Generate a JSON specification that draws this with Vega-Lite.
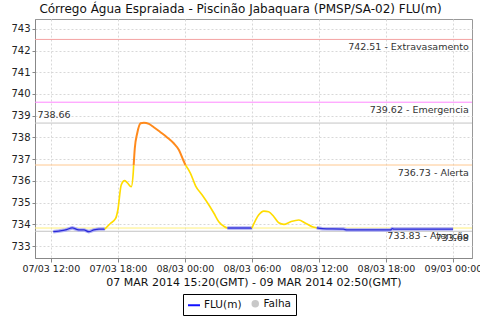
{
  "$schema": "https://vega.github.io/schema/vega-lite/v6.json",
  "autosize": "none",
  "width": 437,
  "height": 239,
  "padding": {"left": 35, "top": 19, "right": 8, "bottom": 62},
  "background": "white",
  "title": {"text": "Córrego Água Espraiada - Piscinão Jabaquara (PMSP/SA-02) FLU(m)", "font": "DejaVu Sans", "fontSize": 12, "fontWeight": "normal", "color": "#111", "anchor": "middle", "dx": -13, "offset": 3},
  "config": {
    "view": {"stroke": "#999", "strokeWidth": 1},
    "axis": {"labelFont": "DejaVu Sans", "titleFont": "DejaVu Sans", "gridColor": "#d8d8d8", "gridDash": [2, 2], "domainColor": "#888", "tickColor": "#888", "labelColor": "#222", "titleColor": "#111"},
    "axisY": {"labelOverlap": false, "labelFontSize": 10, "tickSize": 3, "labelPadding": 2, "tickCount": 11}
  },
  "datasets": {
    "flu": [
      {"t": "2014-03-07T12:13:00Z", "v": 733.66, "seg": 1, "faixa": "normal"},
      {"t": "2014-03-07T12:43:00Z", "v": 733.69, "seg": 1, "faixa": "normal"},
      {"t": "2014-03-07T13:19:00Z", "v": 733.74, "seg": 1, "faixa": "normal"},
      {"t": "2014-03-07T13:55:00Z", "v": 733.84, "seg": 1, "faixa": "normal"},
      {"t": "2014-03-07T14:30:00Z", "v": 733.74, "seg": 1, "faixa": "normal"},
      {"t": "2014-03-07T14:58:00Z", "v": 733.74, "seg": 1, "faixa": "normal"},
      {"t": "2014-03-07T15:24:00Z", "v": 733.66, "seg": 1, "faixa": "normal"},
      {"t": "2014-03-07T15:51:00Z", "v": 733.74, "seg": 1, "faixa": "normal"},
      {"t": "2014-03-07T16:18:00Z", "v": 733.78, "seg": 1, "faixa": "normal"},
      {"t": "2014-03-07T16:50:00Z", "v": 733.78, "seg": 1, "faixa": "normal"},
      {"t": "2014-03-07T16:50:00Z", "v": 733.78, "seg": 2, "faixa": "atencao"},
      {"t": "2014-03-07T17:21:00Z", "v": 734.05, "seg": 2, "faixa": "atencao"},
      {"t": "2014-03-07T17:48:00Z", "v": 734.27, "seg": 2, "faixa": "atencao"},
      {"t": "2014-03-07T18:00:00Z", "v": 734.66, "seg": 2, "faixa": "atencao"},
      {"t": "2014-03-07T18:18:00Z", "v": 735.81, "seg": 2, "faixa": "atencao"},
      {"t": "2014-03-07T18:36:00Z", "v": 736.01, "seg": 2, "faixa": "atencao"},
      {"t": "2014-03-07T18:50:00Z", "v": 735.92, "seg": 2, "faixa": "atencao"},
      {"t": "2014-03-07T19:12:00Z", "v": 735.73, "seg": 2, "faixa": "atencao"},
      {"t": "2014-03-07T19:23:00Z", "v": 736.42, "seg": 2, "faixa": "atencao"},
      {"t": "2014-03-07T19:25:00Z", "v": 736.73, "seg": 2, "faixa": "atencao"},
      {"t": "2014-03-07T19:25:00Z", "v": 736.73, "seg": 3, "faixa": "alerta"},
      {"t": "2014-03-07T19:31:00Z", "v": 737.5, "seg": 3, "faixa": "alerta"},
      {"t": "2014-03-07T19:44:00Z", "v": 738.19, "seg": 3, "faixa": "alerta"},
      {"t": "2014-03-07T20:02:00Z", "v": 738.65, "seg": 3, "faixa": "alerta"},
      {"t": "2014-03-07T20:20:00Z", "v": 738.68, "seg": 3, "faixa": "alerta"},
      {"t": "2014-03-07T20:47:00Z", "v": 738.62, "seg": 3, "faixa": "alerta"},
      {"t": "2014-03-07T21:13:00Z", "v": 738.47, "seg": 3, "faixa": "alerta"},
      {"t": "2014-03-07T21:49:00Z", "v": 738.24, "seg": 3, "faixa": "alerta"},
      {"t": "2014-03-07T22:25:00Z", "v": 738.0, "seg": 3, "faixa": "alerta"},
      {"t": "2014-03-07T23:00:00Z", "v": 737.73, "seg": 3, "faixa": "alerta"},
      {"t": "2014-03-07T23:28:00Z", "v": 737.42, "seg": 3, "faixa": "alerta"},
      {"t": "2014-03-07T23:51:00Z", "v": 736.96, "seg": 3, "faixa": "alerta"},
      {"t": "2014-03-08T00:03:00Z", "v": 736.73, "seg": 3, "faixa": "alerta"},
      {"t": "2014-03-08T00:03:00Z", "v": 736.73, "seg": 4, "faixa": "atencao"},
      {"t": "2014-03-08T00:30:00Z", "v": 736.35, "seg": 4, "faixa": "atencao"},
      {"t": "2014-03-08T00:58:00Z", "v": 735.76, "seg": 4, "faixa": "atencao"},
      {"t": "2014-03-08T01:33:00Z", "v": 735.35, "seg": 4, "faixa": "atencao"},
      {"t": "2014-03-08T02:09:00Z", "v": 734.89, "seg": 4, "faixa": "atencao"},
      {"t": "2014-03-08T02:36:00Z", "v": 734.51, "seg": 4, "faixa": "atencao"},
      {"t": "2014-03-08T03:02:00Z", "v": 734.12, "seg": 4, "faixa": "atencao"},
      {"t": "2014-03-08T03:33:00Z", "v": 733.89, "seg": 4, "faixa": "atencao"},
      {"t": "2014-03-08T03:48:00Z", "v": 733.83, "seg": 4, "faixa": "atencao"},
      {"t": "2014-03-08T03:48:00Z", "v": 733.83, "seg": 5, "faixa": "normal"},
      {"t": "2014-03-08T06:00:00Z", "v": 733.83, "seg": 5, "faixa": "normal"},
      {"t": "2014-03-08T06:00:00Z", "v": 733.83, "seg": 6, "faixa": "atencao"},
      {"t": "2014-03-08T06:36:00Z", "v": 734.43, "seg": 6, "faixa": "atencao"},
      {"t": "2014-03-08T07:04:00Z", "v": 734.61, "seg": 6, "faixa": "atencao"},
      {"t": "2014-03-08T07:30:00Z", "v": 734.58, "seg": 6, "faixa": "atencao"},
      {"t": "2014-03-08T07:58:00Z", "v": 734.35, "seg": 6, "faixa": "atencao"},
      {"t": "2014-03-08T08:24:00Z", "v": 734.07, "seg": 6, "faixa": "atencao"},
      {"t": "2014-03-08T08:52:00Z", "v": 734.0, "seg": 6, "faixa": "atencao"},
      {"t": "2014-03-08T09:28:00Z", "v": 734.12, "seg": 6, "faixa": "atencao"},
      {"t": "2014-03-08T10:12:00Z", "v": 734.2, "seg": 6, "faixa": "atencao"},
      {"t": "2014-03-08T10:48:00Z", "v": 734.05, "seg": 6, "faixa": "atencao"},
      {"t": "2014-03-08T11:24:00Z", "v": 733.89, "seg": 6, "faixa": "atencao"},
      {"t": "2014-03-08T11:48:00Z", "v": 733.84, "seg": 6, "faixa": "atencao"},
      {"t": "2014-03-08T11:48:00Z", "v": 733.84, "seg": 7, "faixa": "normal"},
      {"t": "2014-03-08T12:18:00Z", "v": 733.8, "seg": 7, "faixa": "normal"},
      {"t": "2014-03-08T14:12:00Z", "v": 733.78, "seg": 7, "faixa": "normal"},
      {"t": "2014-03-08T14:30:00Z", "v": 733.74, "seg": 7, "faixa": "normal"},
      {"t": "2014-03-08T18:24:00Z", "v": 733.74, "seg": 7, "faixa": "normal"},
      {"t": "2014-03-08T18:34:00Z", "v": 733.8, "seg": 7, "faixa": "normal"},
      {"t": "2014-03-08T18:42:00Z", "v": 733.78, "seg": 7, "faixa": "normal"},
      {"t": "2014-03-09T00:00:00Z", "v": 733.78, "seg": 7, "faixa": "normal"}
    ],
    "limites": [
      {"name": "Extravasamento", "value": 742.51, "label": "742.51 - Extravasamento"},
      {"name": "Emergencia", "value": 739.62, "label": "739.62 - Emergencia"},
      {"name": "max", "value": 738.66, "label": "738.66"},
      {"name": "Alerta", "value": 736.73, "label": "736.73 - Alerta"},
      {"name": "Atenção", "value": 733.83, "label": "733.83 - Atenção"},
      {"name": "min", "value": 733.68, "label": "733.68"}
    ],
    "legenda": [
      {"serie": "FLU(m)"},
      {"serie": "Falha"}
    ]
  },
  "layer": [
    {
      "data": {"name": "limites"},
      "mark": {"type": "rule", "strokeWidth": 1},
      "encoding": {
        "y": {"field": "value", "type": "quantitative",
          "scale": {"domain": [732.45, 743.45], "nice": false, "zero": false},
          "axis": {"title": null, "values": [733, 734, 735, 736, 737, 738, 739, 740, 741, 742, 743], "labelOverlap": false}},
        "color": {"field": "name", "type": "nominal", "legend": null,
          "scale": {"domain": ["Extravasamento", "Emergencia", "max", "Alerta", "Atenção", "min"], "range": ["#f4a3a3", "#ff88ff", "#c4c4c4", "#ffc890", "#fff07a", "#c4c4c4"]}}
      }
    },
    {
      "data": {"name": "flu"},
      "transform": [{"filter": "datum.faixa === 'normal'"}],
      "mark": {"type": "line", "strokeWidth": 3.5, "color": "#adadf3"},
      "encoding": {
        "x": {"field": "t", "type": "temporal",
          "scale": {"type": "utc", "domain": [{"year": 2014, "month": 3, "date": 7, "hours": 10, "minutes": 35, "utc": true}, {"year": 2014, "month": 3, "date": 9, "hours": 1, "minutes": 42, "utc": true}]},
          "axis": {"title": "07 MAR 2014 15:20(GMT) - 09 MAR 2014 02:50(GMT)", "format": "%d/%m %H:%M", "labelFontSize": 9.5, "titleFontSize": 11, "titleFontWeight": "normal", "tickSize": 4, "labelPadding": 1, "titlePadding": 4, "labelOverlap": false, "labelFlush": false,
            "values": [
              {"year": 2014, "month": 3, "date": 7, "hours": 12, "utc": true},
              {"year": 2014, "month": 3, "date": 7, "hours": 18, "utc": true},
              {"year": 2014, "month": 3, "date": 8, "hours": 0, "utc": true},
              {"year": 2014, "month": 3, "date": 8, "hours": 6, "utc": true},
              {"year": 2014, "month": 3, "date": 8, "hours": 12, "utc": true},
              {"year": 2014, "month": 3, "date": 8, "hours": 18, "utc": true},
              {"year": 2014, "month": 3, "date": 9, "hours": 0, "utc": true}
            ]}},
        "y": {"field": "v", "type": "quantitative"},
        "detail": {"field": "seg", "type": "nominal"}
      }
    },
    {
      "data": {"name": "flu"},
      "mark": {"type": "line", "interpolate": "monotone"},
      "encoding": {
        "x": {"field": "t", "type": "temporal"},
        "y": {"field": "v", "type": "quantitative"},
        "detail": {"field": "seg", "type": "nominal"},
        "stroke": {"field": "faixa", "type": "nominal", "legend": null,
          "scale": {"domain": ["normal", "atencao", "alerta"], "range": ["#2a2ad8", "#ffdc00", "#ff8a1c"]}},
        "strokeWidth": {"field": "faixa", "type": "nominal", "legend": null,
          "scale": {"domain": ["normal", "atencao", "alerta"], "range": [1.3, 2, 2]}}
      }
    },
    {
      "data": {"name": "limites"},
      "transform": [{"filter": "datum.name !== 'max' && datum.name !== 'min'"}],
      "mark": {"type": "text", "align": "right", "baseline": "alphabetic", "dy": 10.5, "font": "DejaVu Sans", "fontSize": 9.5, "color": "#333"},
      "encoding": {
        "x": {"datum": {"year": 2014, "month": 3, "date": 9, "hours": 1, "minutes": 25, "utc": true}, "type": "temporal"},
        "y": {"field": "value", "type": "quantitative"},
        "text": {"field": "label"}
      }
    },
    {
      "data": {"name": "limites"},
      "transform": [{"filter": "datum.name === 'min'"}],
      "mark": {"type": "text", "align": "right", "baseline": "alphabetic", "dy": 10, "font": "DejaVu Sans", "fontSize": 9.5, "color": "#333"},
      "encoding": {
        "x": {"datum": {"year": 2014, "month": 3, "date": 9, "hours": 1, "minutes": 25, "utc": true}, "type": "temporal"},
        "y": {"field": "value", "type": "quantitative"},
        "text": {"field": "label"}
      }
    },
    {
      "data": {"name": "limites"},
      "transform": [{"filter": "datum.name === 'max'"}],
      "mark": {"type": "text", "align": "left", "baseline": "alphabetic", "dy": -5, "font": "DejaVu Sans", "fontSize": 9.5, "color": "#333"},
      "encoding": {
        "x": {"datum": {"year": 2014, "month": 3, "date": 7, "hours": 10, "minutes": 48, "utc": true}, "type": "temporal"},
        "y": {"field": "value", "type": "quantitative"},
        "text": {"field": "label"}
      }
    },
    {
      "data": {"name": "legenda"},
      "mark": {"type": "point", "filled": true, "strokeWidth": 2, "opacity": 1},
      "encoding": {
        "x": {"field": "t", "type": "temporal"},
        "y": {"field": "v", "type": "quantitative"},
        "color": {"field": "serie", "type": "nominal", "title": null,
          "scale": {"domain": ["FLU(m)", "Falha"], "range": ["#1010ff", "#c8c8c8"]},
          "legend": {"orient": "none", "legendX": 148, "legendY": 275, "direction": "horizontal", "strokeColor": "#000", "padding": 4, "labelFont": "DejaVu Sans", "labelFontSize": 10.5, "labelColor": "#111", "columnPadding": 6, "labelOffset": 3, "symbolStrokeWidth": 2, "symbolOpacity": 1}},
        "stroke": {"field": "serie", "type": "nominal", "title": null,
          "scale": {"domain": ["FLU(m)", "Falha"], "range": ["#1010ff", "#c8c8c8"]}},
        "shape": {"field": "serie", "type": "nominal", "title": null,
          "scale": {"domain": ["FLU(m)", "Falha"], "range": ["stroke", "circle"]}},
        "size": {"field": "serie", "type": "nominal", "title": null,
          "scale": {"type": "ordinal", "domain": ["FLU(m)", "Falha"], "range": [144, 30]}}
      }
    }
  ],
  "resolve": {"scale": {"color": "independent", "stroke": "independent", "strokeWidth": "independent", "shape": "independent", "size": "independent"}}
}
